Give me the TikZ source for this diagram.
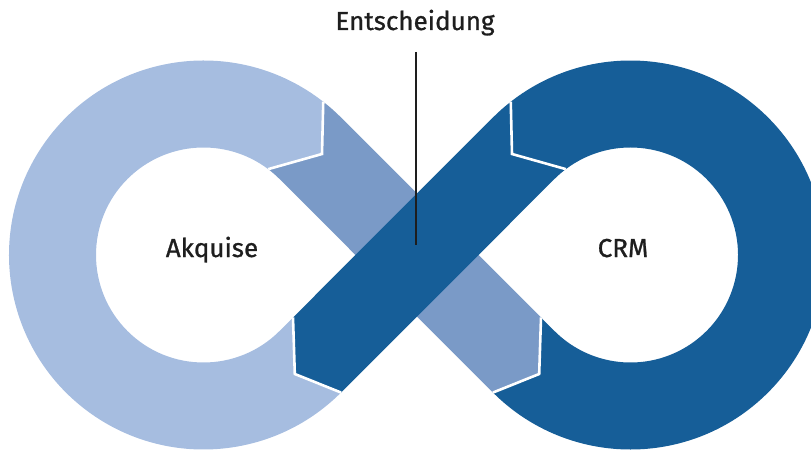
\documentclass[tikz,border=0pt]{standalone}
\usepackage{fontspec}
\setmainfont{Fira Sans}
\newfontfamily\labelfont{Fira Sans}[FakeBold=0.9]
\usetikzlibrary{calc}
\definecolor{akqblue}{RGB}{166,189,224}
\definecolor{midblue}{RGB}{122,154,199}
\definecolor{crmblue}{RGB}{22,94,152}
\definecolor{textgray}{RGB}{30,30,30}
\tikzset{
  loop label/.style={font=\labelfont\fontsize{26}{30}\selectfont, text=textgray, anchor=base},
  separator/.style={white, line width=2.6, line join=miter},
}

\begin{document}
\begin{tikzpicture}[x=1pt, y=1pt]
  \useasboundingbox (0,0) rectangle (811,451);
  \clip (0,0) rectangle (811,451);
  \def\outerR{194.5}
  \def\innerR{107.5}

  % loop centres
  \coordinate (L) at (203.5,196);
  \coordinate (R) at (630.5,196);

  % chevron points
  \coordinate (Oa) at ($(L)+(52:\outerR)$);
  \coordinate (Ia) at ($(L)+(53:\innerR)$);
  \coordinate (Ta) at (322,297);
  \coordinate (Od) at ($(L)+(-45:\outerR)$);
  \coordinate (Td) at ($(L)+(-52.5:150)$);
  \coordinate (Id) at (293,133.5);
  \coordinate (Oc) at ($(R)+(128:\outerR)$);
  \coordinate (Ic) at ($(R)+(127:\innerR)$);
  \coordinate (Tc) at (512,297);
  \coordinate (Ob) at ($(R)+(225:\outerR)$);
  \coordinate (Tb) at ($(R)+(232.5:150)$);
  \coordinate (Ib) at (541,133.5);
  \coordinate (Li45) at ($(L)+(45:\innerR)$);
  \coordinate (Li315) at ($(L)+(-45:\innerR)$);
  \coordinate (Ri135) at ($(R)+(135:\innerR)$);

  % Akquise loop
  \fill[akqblue] (Oa) arc[start angle=52, end angle=315, radius=\outerR]
    -- (Td) -- (Id) -- (Li315) arc[start angle=315, end angle=53, radius=\innerR]
    -- (Ta) -- cycle;

  % CRM loop
  \fill[crmblue] (Ob) arc[start angle=225, end angle=488, radius=\outerR]
    -- (Tc) -- (Ic) arc[start angle=127, end angle=-135, radius=\innerR]
    -- (Ib) -- (Tb) -- cycle;

  % band Akquise -> CRM
  \fill[midblue] (Oa) arc[start angle=52, end angle=45, radius=\outerR]
    -- (Ib) -- (Tb) -- (Ob) -- (Li45) arc[start angle=45, end angle=53, radius=\innerR]
    -- (Ta) -- cycle;

  % band CRM -> Akquise
  \fill[crmblue] (Oc) arc[start angle=128, end angle=135, radius=\outerR]
    -- (Id) -- (Td) -- (Od) -- (Ri135) arc[start angle=135, end angle=127, radius=\innerR]
    -- (Tc) -- cycle;

  % white steps
  \draw[separator] (Oa) -- (Ta) -- (Ia);
  \draw[separator] (Ib) -- (Tb) -- (Ob);
  \draw[separator] (Oc) -- (Tc) -- (Ic);
  \draw[separator] (Id) -- (Td) -- (Od);

  % labels
  \node[loop label] (akquise) at (212,194) {Akquise};
  \node[loop label] (crm) at (623,194) {CRM};
  \node[loop label] (entsch) at (415,421) {Entscheidung};
  \coordinate (linetop) at (416,399);
  \coordinate (decide) at (416,206);
  \draw[line width=1.3, textgray] (linetop) -- (decide);
\end{tikzpicture}
\end{document}
